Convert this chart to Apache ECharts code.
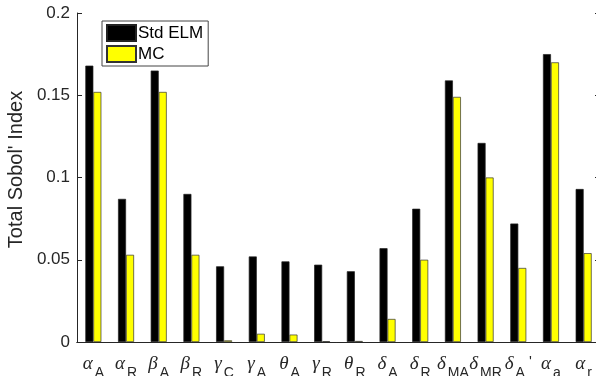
<!DOCTYPE html>
<html>
<head>
<meta charset="utf-8">
<script src="https://cdn.jsdelivr.net/npm/echarts@6/dist/echarts.min.js"></script>
<style>
  html, body { margin: 0; padding: 0; background: #fff; }
  #chart { width: 596px; height: 376px; }
</style>
</head>
<body>
<div id="chart"></div>
<script>
// parameter labels: greek letter _ subscript (optional trailing prime)
const categories = ['α_A', 'α_R', 'β_A', 'β_R', 'γ_C', 'γ_A', 'θ_A', 'γ_R', 'θ_R',
  'δ_A', 'δ_R', 'δ_MA', 'δ_MR', "δ_A'", 'α_a', 'α_r'];
const stdElm = [0.168, 0.087, 0.165, 0.090, 0.046, 0.052, 0.049, 0.047, 0.043,
  0.057, 0.081, 0.159, 0.121, 0.072, 0.175, 0.093];
const mc = [0.152, 0.053, 0.152, 0.053, 0.001, 0.005, 0.0045, 0.0005, 0.0006,
  0.014, 0.050, 0.149, 0.100, 0.045, 0.170, 0.054];
const yTicks = [0, 0.05, 0.1, 0.15, 0.2];

const axisColor = '#262626';
const sans = 'Liberation Sans, Arial, Helvetica, sans-serif';

function formatLabel(name) {
  const [greek, rest] = name.split('_');
  const prime = rest.endsWith("'");
  const sub = prime ? rest.slice(0, -1) : rest;
  return `{g|${greek}}{s|${sub}}` + (prime ? "{p| '}" : '');
}

const chart = echarts.init(document.getElementById('chart'));

const option = {
  animation: false,
  textStyle: { fontFamily: sans, color: axisColor },
  grid: { left: 77, top: 13, bottom: 34, width: 523, containLabel: false, outerBoundsMode: 'none' },
  legend: {
    left: 102,
    top: 21,
    orient: 'vertical',
    icon: 'rect',
    itemWidth: 29,
    itemHeight: 16,
    itemGap: 3,
    padding: [3, 5, 3, 4],
    backgroundColor: '#fff',
    borderColor: '#444',
    borderWidth: 1,
    textStyle: { fontSize: 17, lineHeight: 16, fontFamily: sans, color: '#000', padding: [0, 0, 0, -3] },
    data: ['Std ELM', 'MC']
  },
  xAxis: [
    {
      type: 'category',
      data: categories,
      position: 'bottom',
      axisLine: { lineStyle: { color: axisColor, width: 1 } },
      axisTick: { inside: true, alignWithLabel: true, length: 5, lineStyle: { color: axisColor } },
      axisLabel: {
        margin: 12,
        interval: 0,
        formatter: formatLabel,
        rich: {
          g: { fontFamily: 'Liberation Serif, Times New Roman, serif', fontStyle: 'italic', fontSize: 19, lineHeight: 20, verticalAlign: 'top', color: axisColor },
          s: { fontFamily: sans, fontSize: 14, lineHeight: 26, verticalAlign: 'bottom', padding: [0, 0, 0, 2], color: axisColor },
          p: { fontFamily: sans, fontSize: 15, lineHeight: 15, verticalAlign: 'top', color: axisColor }
        }
      }
    },
    {
      type: 'category',
      data: categories,
      position: 'top',
      axisLine: { lineStyle: { color: axisColor, width: 1 } },
      axisTick: { inside: true, alignWithLabel: true, length: 5, lineStyle: { color: axisColor } },
      axisLabel: { show: false }
    }
  ],
  yAxis: [
    {
      type: 'value',
      min: yTicks[0],
      max: yTicks[yTicks.length - 1],
      interval: 0.05,
      position: 'left',
      name: "Total Sobol' Index",
      nameLocation: 'middle',
      nameGap: 41,
      nameTextStyle: { fontSize: 20, fontFamily: sans, color: axisColor, padding: [0, 0, 0, 16] },
      axisLine: { show: true, lineStyle: { color: axisColor, width: 1 } },
      axisTick: { show: true, inside: true, length: 5, lineStyle: { color: axisColor } },
      axisLabel: { fontSize: 17, margin: 7, color: axisColor },
      splitLine: { show: false }
    },
    {
      type: 'value',
      min: yTicks[0],
      max: yTicks[yTicks.length - 1],
      interval: 0.05,
      position: 'right',
      axisLine: { show: true, lineStyle: { color: axisColor, width: 1 } },
      axisTick: { show: true, inside: true, length: 5, lineStyle: { color: axisColor } },
      axisLabel: { show: false },
      splitLine: { show: false }
    }
  ],
  series: [
    {
      name: 'Std ELM',
      type: 'bar',
      data: stdElm,
      barWidth: 8,
      barGap: '0%',
      itemStyle: { color: '#000', borderColor: '#222', borderWidth: 0.7 }
    },
    {
      name: 'MC',
      type: 'bar',
      data: mc,
      barWidth: 8,
      barGap: '0%',
      itemStyle: { color: '#ffff00', borderColor: '#333', borderWidth: 0.7 }
    }
  ]
};

chart.setOption(option);
</script>
</body>
</html>
